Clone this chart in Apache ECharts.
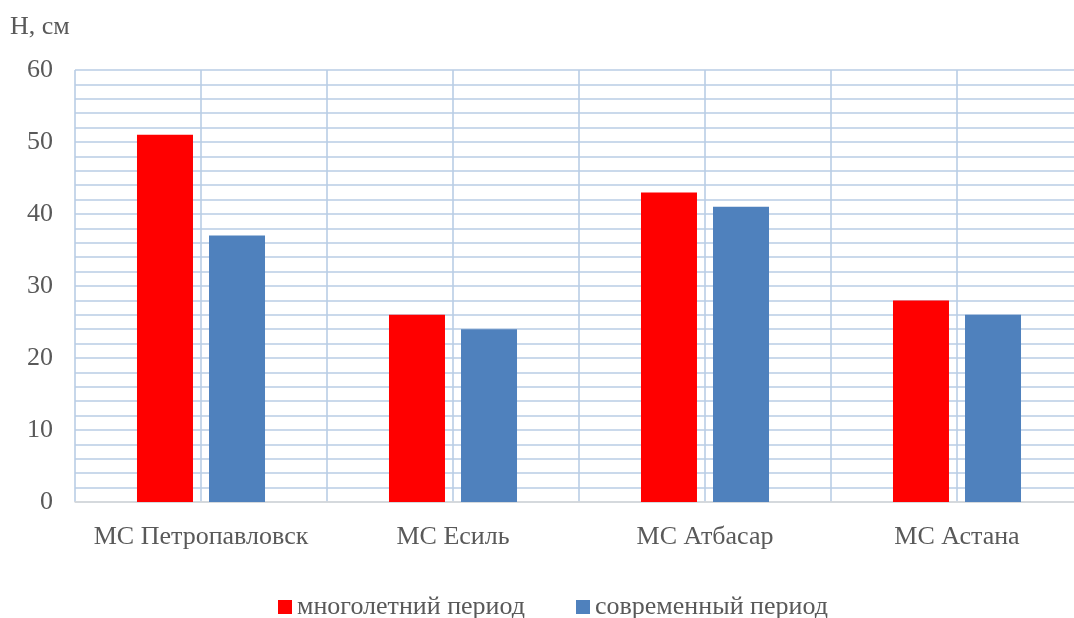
<!DOCTYPE html>
<html>
<head>
<meta charset="utf-8">
<script src="https://cdn.jsdelivr.net/npm/echarts@6/dist/echarts.min.js"></script>
<style>
  html, body { margin: 0; padding: 0; background: #fff; overflow: hidden; }
  #chart { width: 1090px; height: 618px; }
</style>
</head>
<body>
<div id="chart"></div>
<script>
// Snow depth by station
const stations = ['МС Петропавловск', 'МС Есиль', 'МС Атбасар', 'МС Астана'];
const longTerm = [51, 26, 43, 28];   // многолетний период
const recent = [37, 24, 41, 26];     // современный период
const seriesNames = ['многолетний период', 'современный период'];
const yTicks = [0, 10, 20, 30, 40, 50, 60];

const FONT = '"Liberation Serif", "DejaVu Serif", serif';
const TXT = '#595959';
const GRID = '#b9cde5';

const chart = echarts.init(document.getElementById('chart'));
chart.setOption({
  animation: false,
  textStyle: { fontFamily: FONT },
  title: {
    text: 'H, см', left: 5, top: 9,
    textStyle: { fontFamily: FONT, fontSize: 26, fontWeight: 'normal', color: TXT }
  },
  legend: {
    top: 589, left: 273, itemWidth: 14, itemHeight: 14, itemGap: 51,
    icon: 'rect',
    textStyle: { fontFamily: FONT, fontSize: 26, color: TXT },
    data: seriesNames
  },
  // plot area runs slightly past the right edge of the window
  grid: { left: 75, top: 70, right: 7, height: 432 },
  xAxis: [
    {
      type: 'category', data: stations, boundaryGap: true,
      axisLine: { show: true, lineStyle: { color: '#d9d9d9', width: 1.5 } },
      axisTick: { show: false },
      splitLine: { show: false },
      axisLabel: { fontFamily: FONT, fontSize: 26, color: TXT, margin: 22, interval: 0 }
    },
    {
      // fine vertical guides every half category
      type: 'value', min: 0, max: 8, interval: 1, position: 'bottom',
      axisLine: { show: false }, axisTick: { show: false }, axisLabel: { show: false },
      splitLine: { show: true, lineStyle: { color: GRID, width: 1.6 } }
    }
  ],
  yAxis: {
    type: 'value', min: 0, max: 60, interval: 2,
    axisLine: { show: false }, axisTick: { show: false },
    axisLabel: {
      fontFamily: FONT, fontSize: 26, color: TXT, margin: 22,
      formatter: v => (yTicks.indexOf(v) >= 0 ? String(v) : '')
    },
    splitLine: { show: true, lineStyle: { color: GRID, width: 1.6 } }
  },
  series: [
    {
      name: seriesNames[0], type: 'bar', xAxisIndex: 0, data: longTerm,
      barWidth: 56, barGap: '28.6%', itemStyle: { color: '#ff0000' }
    },
    {
      name: seriesNames[1], type: 'bar', xAxisIndex: 0, data: recent,
      barWidth: 56, itemStyle: { color: '#4f81bd' }
    }
  ]
});
</script>
</body>
</html>
